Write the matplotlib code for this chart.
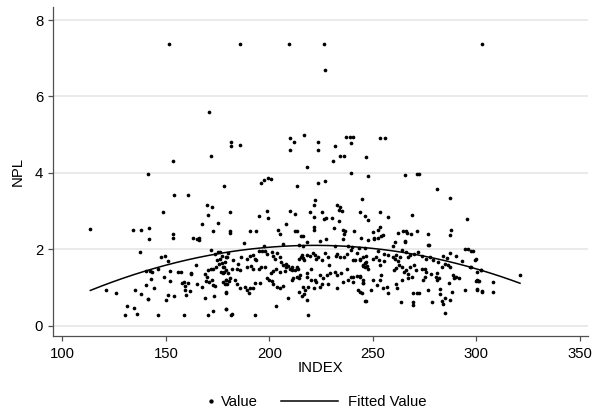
import numpy as np
import matplotlib.pyplot as plt
from matplotlib.lines import Line2D

plt.rcParams["font.family"] = ["Liberation Sans", "DejaVu Sans"]

# points (INDEX, NPL)
upper = [
    (151.4, 7.37), (185.7, 7.37), (209.5, 7.37), (226.3, 7.37), (302.7, 7.37),
    (226.9, 6.69), (170.7, 5.59), (216.8, 5.00), (210.0, 4.91), (212.0, 4.80),
    (210.0, 4.61), (181.5, 4.81), (181.5, 4.70), (185.7, 4.72), (223.6, 4.80),
    (223.6, 4.61), (237.0, 4.94), (239.0, 4.94), (240.5, 4.93), (239.3, 4.78),
    (253.6, 4.91), (256.1, 4.92), (231.8, 4.70), (231.0, 4.31), (234.2, 4.45),
    (236.0, 4.45), (246.6, 4.42), (172.0, 4.43), (153.7, 4.30), (218.3, 4.16),
    (141.5, 3.96), (239.3, 4.00), (247.9, 3.92), (265.6, 3.95), (271.5, 3.97),
    (272.2, 3.96), (199.5, 3.88), (200.9, 3.85), (197.3, 3.81), (195.8, 3.73),
    (226.9, 3.79), (223.8, 3.73), (213.5, 3.65), (177.9, 3.66), (281.2, 3.59),
    (154.1, 3.43), (160.7, 3.41), (287.6, 3.35), (244.6, 3.31), (222.1, 3.29),
    (169.8, 3.16), (172.5, 3.10), (221.7, 3.15), (232.9, 3.15), (234.2, 3.10),
    (233.5, 3.02), (235.0, 3.00), (148.8, 2.97), (181.2, 2.98), (210.0, 3.00),
    (212.3, 2.93), (198.9, 3.00), (199.3, 2.82), (195.0, 2.88), (219.9, 2.97),
    (225.4, 2.98), (170.3, 2.91), (244.0, 2.97), (253.4, 2.98), (269.2, 2.91),
    (246.4, 2.87), (247.9, 2.78), (257.6, 2.86), (226.5, 2.80), (227.2, 2.82),
    (230.1, 2.82), (221.7, 2.84), (295.6, 2.79), (175.1, 2.69), (167.6, 2.67),
    (208.0, 2.66), (233.8, 2.74), (231.3, 2.55), (221.4, 2.59), (221.7, 2.52),
    (113.5, 2.53), (134.2, 2.50), (137.8, 2.52), (141.9, 2.55), (141.9, 2.28),
    (153.7, 2.41), (153.7, 2.29), (163.3, 2.31), (165.1, 2.28), (165.8, 2.24),
    (166.0, 2.30), (173.0, 2.47), (180.8, 2.47), (181.0, 2.43), (190.9, 2.47),
    (193.4, 2.47), (204.4, 2.50), (205.0, 2.40), (212.3, 2.48), (213.2, 2.47),
    (215.4, 2.36), (216.3, 2.35), (235.6, 2.50), (236.7, 2.48), (236.3, 2.41),
    (235.6, 2.26), (241.0, 2.48), (250.3, 2.46), (253.6, 2.59), (252.5, 2.50),
    (254.0, 2.36), (255.0, 2.38), (250.6, 2.30), (252.5, 2.29), (244.2, 2.31),
    (262.0, 2.44), (264.7, 2.48), (266.2, 2.48), (266.7, 2.44), (271.5, 2.47),
    (268.4, 2.39), (276.8, 2.41), (287.8, 2.50), (287.4, 2.37),
    (265.5, 2.22), (260.9, 2.20), (218.3, 2.20), (224.5, 2.21), (227.4, 2.26),
    (187.7, 2.17), (206.4, 2.13), (197.4, 2.10), (214.5, 2.12), (216.4, 2.10),
    (232.0, 2.09), (238.2, 2.10), (239.8, 2.06), (243.5, 2.03), (246.5, 2.03),
    (276.8, 2.11), (277.3, 2.11), (265.6, 2.20), (247.8, 2.24), (250.7, 2.26),
    (296.0, 2.00), (298.5, 1.97), (300.0, 1.74), (297.6, 1.55), (300.3, 1.21),
    (301.4, 1.18), (302.2, 1.45), (300.5, 0.97), (302.7, 0.91),
]

left = [
    (137.6, 1.94), (147.6, 1.81), (149.5, 1.82), (151.1, 1.69), (140.2, 1.44),
    (142.2, 1.44), (143.5, 1.41), (146.0, 1.50), (152.1, 1.44), (156.1, 1.41),
    (162.4, 1.39), (164.5, 1.60), (121.0, 0.94), (126.1, 0.87), (135.2, 0.93),
    (140.6, 1.07), (142.7, 1.22), (144.2, 0.99), (149.0, 1.27), (152.1, 1.18),
    (138.1, 0.82), (141.3, 0.71), (141.6, 0.69), (131.0, 0.53), (134.7, 0.47),
    (136.0, 0.32), (130.3, 0.28), (146.1, 0.28), (158.7, 0.28), (170.5, 0.28),
    (172.6, 0.38), (179.0, 0.43), (157.7, 1.11), (158.7, 1.14), (159.5, 1.04),
    (160.6, 1.13), (161.8, 0.92), (159.7, 0.80), (159.2, 0.93), (154.0, 0.78),
    (151.1, 0.80), (150.0, 0.67), (157.4, 1.40), (162.2, 1.36), (165.3, 1.09),
    (167.6, 1.02), (169.3, 1.17), (169.0, 0.74), (173.4, 0.77), (179.3, 0.87),
    (168.7, 1.35), (169.7, 1.28), (171.0, 1.15), (172.1, 1.20), (172.6, 1.06),
    (173.7, 1.04), (170.5, 1.45), (171.9, 1.50), (178.2, 1.40), (179.3, 1.20),
    (180.1, 1.37), (178.5, 1.09), (179.8, 1.09), (173.7, 1.89), (175.3, 1.93),
    (176.1, 1.76), (174.8, 1.72), (172.9, 1.49), (174.2, 1.53), (175.8, 1.63),
    (177.2, 1.65), (178.2, 1.55), (179.3, 1.79), (180.1, 1.91), (171.7, 1.99),
]

middle = [
    (176.1, 1.94), (177.1, 1.82), (179.6, 1.79), (182.5, 1.72), (178.4, 1.68),
    (177.4, 1.55), (176.6, 1.41), (177.7, 1.37), (179.3, 1.21), (180.6, 1.18),
    (179.0, 0.89), (186.1, 1.79), (185.0, 1.62), (189.0, 1.74), (190.6, 1.82),
    (191.9, 1.86), (193.0, 1.76), (193.8, 1.72), (195.1, 1.96), (196.7, 1.95),
    (197.9, 1.96), (199.0, 1.89), (201.1, 1.94), (201.6, 1.82), (202.7, 1.76),
    (203.8, 1.91), (205.1, 1.79), (205.9, 1.68), (206.7, 1.59), (208.0, 1.63),
    (209.1, 1.56), (209.9, 1.48), (210.8, 1.53), (212.4, 1.46), (213.5, 1.53),
    (214.5, 1.74), (215.1, 1.81), (216.1, 1.77), (215.8, 1.85), (216.7, 1.72),
    (218.3, 1.85), (219.6, 1.82), (220.9, 1.91), (222.0, 1.85), (222.8, 1.76),
    (223.8, 1.81), (225.3, 1.72), (226.9, 1.91), (228.5, 1.81), (229.0, 1.59),
    (232.2, 1.82), (232.8, 1.89), (234.1, 1.81), (236.1, 1.79), (237.4, 1.88),
    (239.3, 1.98), (240.6, 1.72), (241.4, 1.72), (242.5, 1.91), (243.8, 1.72),
    (245.1, 1.56), (246.2, 1.65), (247.0, 1.82),
    (179.3, 1.46), (182.2, 1.50), (184.5, 1.48), (185.8, 1.46), (189.0, 1.53),
    (191.1, 1.56), (192.2, 1.50), (195.1, 1.49), (196.2, 1.53), (197.9, 1.55),
    (200.6, 1.37), (201.9, 1.44), (203.2, 1.50), (205.1, 1.41), (207.5, 1.44),
    (208.3, 1.53), (211.2, 1.46), (211.6, 1.24), (214.0, 1.48), (214.8, 1.33),
    (218.0, 1.37), (218.3, 1.28), (220.4, 1.50), (222.0, 1.21), (222.8, 1.15),
    (224.5, 1.33), (226.1, 1.24), (227.7, 1.33), (229.3, 1.39), (231.7, 1.41),
    (232.8, 1.33), (234.9, 1.37), (237.4, 1.48), (239.3, 1.28), (240.6, 1.28),
    (242.5, 1.30), (243.8, 1.28), (245.4, 1.20), (247.8, 1.48),
    (177.4, 1.15), (180.9, 1.24), (183.4, 1.20), (184.5, 1.09), (185.8, 0.98),
    (188.2, 1.02), (189.0, 0.93), (190.6, 0.98), (192.2, 1.00), (190.3, 0.85),
    (193.0, 1.11), (195.4, 1.13), (198.7, 1.24), (199.9, 1.20), (201.1, 1.18),
    (201.9, 1.09), (203.5, 1.02), (205.1, 0.98), (206.4, 1.04), (210.8, 1.20),
    (213.2, 1.28), (214.5, 1.24), (216.4, 1.02), (217.2, 0.93), (218.8, 1.02),
    (220.4, 1.20), (221.6, 1.00), (224.5, 1.02), (225.3, 1.09), (228.5, 1.09),
    (232.8, 0.98), (235.7, 1.15), (238.2, 1.20), (240.6, 1.15), (243.0, 0.93),
    (243.8, 0.89), (245.4, 1.11),
    (179.3, 0.43), (182.2, 0.31), (181.7, 0.28), (193.0, 0.28), (203.2, 0.53),
    (209.1, 0.72), (214.5, 0.89), (215.6, 0.78), (216.7, 0.82), (218.3, 0.67),
    (218.8, 0.28), (246.7, 0.65),
]

right = [
    (259.9, 2.09), (264.0, 1.98), (266.0, 1.94), (261.5, 1.85), (263.1, 1.79),
    (267.2, 1.81), (268.0, 1.85), (269.9, 1.88), (272.0, 1.94), (273.6, 1.82),
    (275.7, 1.76), (277.6, 1.81), (279.3, 1.72), (281.4, 1.67), (284.1, 1.82),
    (286.0, 1.77), (287.6, 1.91), (290.5, 1.82), (293.0, 1.70), (294.6, 2.00),
    (297.3, 1.96), (299.4, 1.72), (297.0, 1.53), (302.2, 1.46), (300.5, 1.41),
    (299.9, 1.18), (301.0, 1.18), (308.3, 1.14), (308.0, 0.88), (321.2, 1.34),
    (243.8, 1.76), (245.4, 1.79), (246.7, 1.68), (245.1, 1.59), (246.2, 1.53),
    (247.3, 1.56), (250.2, 1.75), (251.5, 1.81), (253.1, 1.72), (255.4, 1.70),
    (253.5, 1.59), (252.7, 1.96), (255.4, 1.89), (257.5, 1.85), (259.6, 1.81),
    (260.7, 1.74), (262.0, 1.69), (261.2, 1.51), (260.4, 1.46), (262.8, 1.59),
    (264.0, 1.53), (265.1, 1.41), (266.0, 1.46), (267.2, 1.35), (268.0, 1.53),
    (269.9, 1.59), (270.9, 1.46), (273.6, 1.50), (275.2, 1.48), (278.0, 1.35),
    (280.9, 1.37), (282.2, 1.24), (283.3, 1.53), (284.9, 1.63), (286.5, 1.59),
    (287.6, 1.55), (288.9, 1.33), (290.5, 1.28), (291.8, 1.24),
    (243.8, 1.30), (245.4, 1.11), (244.6, 0.86), (246.2, 0.65), (249.4, 0.93),
    (250.2, 1.21), (253.5, 1.21), (252.2, 1.06), (253.8, 1.33), (255.1, 0.98),
    (256.7, 1.02), (257.5, 0.86), (261.5, 1.09), (261.9, 0.98), (264.0, 1.20),
    (267.2, 1.24), (268.8, 1.28), (269.6, 0.85), (269.6, 0.54), (269.3, 0.63),
    (271.5, 0.85), (272.5, 0.85), (274.4, 1.20), (275.2, 1.28), (276.0, 1.41),
    (276.8, 0.93), (278.5, 0.63), (280.6, 1.28), (281.2, 1.20), (282.5, 0.82),
    (282.5, 0.97), (283.3, 0.64), (283.8, 0.57), (284.9, 0.74), (284.9, 0.34),
    (287.3, 0.67), (287.0, 1.11), (288.1, 0.89), (289.3, 1.24), (294.6, 0.93),
    (300.5, 0.95), (302.8, 0.89), (263.5, 0.62),
]

pts = np.array(upper + left + middle + right)
index = pts[:, 0]
npl = pts[:, 1]

# quadratic fit, like the "Fitted Value" curve
coef = np.polyfit(index, npl, 2)
xs = np.linspace(index.min(), index.max(), 200)
fit = np.polyval(coef, xs)

fs = 10.7
fig = plt.figure(figsize=(5.92, 4.12), dpi=100)
ax = fig.add_axes([0.089, 0.185, 0.905, 0.797])

ax.scatter(index, npl, s=7, color="black", linewidths=0, zorder=3)
ax.plot(xs, fit, color="black", lw=1.1, zorder=4)

ax.set_xlim(95.3, 354.3)
ax.set_ylim(-0.26, 8.33)
ax.set_xticks([100, 150, 200, 250, 300, 350])
ax.set_yticks([0, 2, 4, 6, 8])
ax.yaxis.grid(True, color="#e6e6e6", lw=1.2)
ax.set_axisbelow(True)
for s in ["top", "right"]:
    ax.spines[s].set_visible(False)
for s in ["left", "bottom"]:
    ax.spines[s].set_color("#505050")
    ax.spines[s].set_linewidth(0.9)
ax.tick_params(direction="out", length=3.4, width=0.9, color="#505050",
               labelsize=fs)
ax.tick_params(axis="x", pad=5)
ax.tick_params(axis="y", pad=3.4)
ax.set_xlabel("INDEX", fontsize=fs, labelpad=0)
ax.set_ylabel("NPL", fontsize=fs, labelpad=7)

# legend below the plot: compact dot entry, long line entry
h_val = Line2D([], [], ls="none", marker="o", ms=2.1, color="black")
h_fit = Line2D([], [], color="black", lw=1.1)
leg1 = fig.legend([h_val], ["Value"], loc="center left",
                  bbox_to_anchor=(0.349, 0.024), frameon=False, fontsize=fs,
                  handlelength=0.6, handletextpad=0.35, borderpad=0,
                  borderaxespad=0)
leg2 = fig.legend([h_fit], ["Fitted Value"], loc="center left",
                  bbox_to_anchor=(0.475, 0.024), frameon=False, fontsize=fs,
                  handlelength=3.8, handletextpad=0.7, borderpad=0,
                  borderaxespad=0)

plt.savefig("out.png", dpi=100)
